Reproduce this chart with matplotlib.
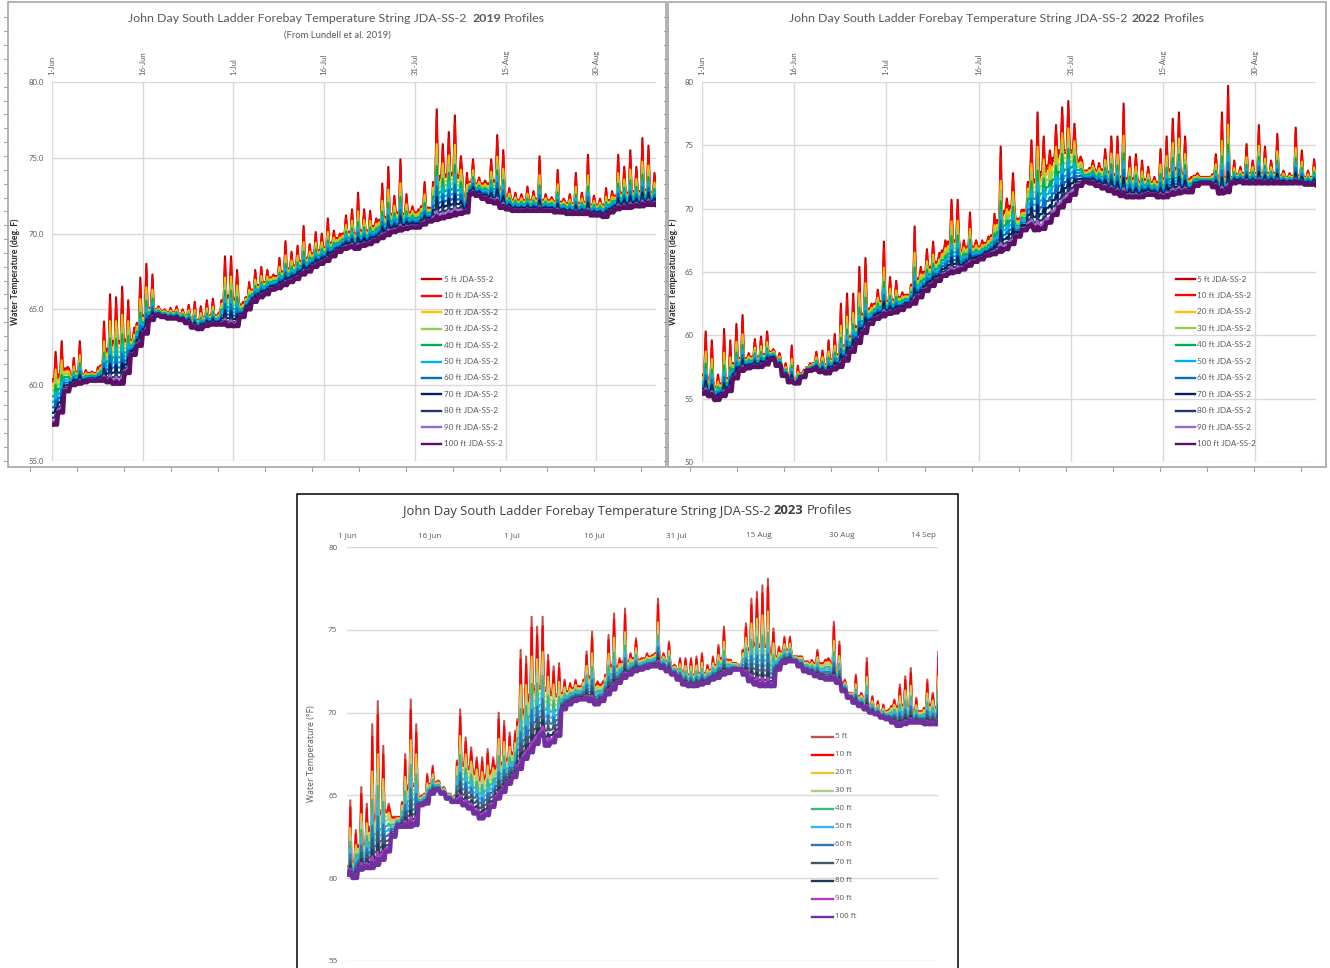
import numpy as np
import matplotlib
matplotlib.use("Agg")
import matplotlib.pyplot as plt
from matplotlib.lines import Line2D
from matplotlib.patches import Rectangle

W, H = 1330, 968

# ---------------------------------------------------------------- data
depths = ['5 ft', '10 ft', '20 ft', '30 ft', '40 ft', '50 ft', '60 ft',
          '70 ft', '80 ft', '90 ft', '100 ft']
# share of the daily surface spike reached by each depth
peak_frac = [1.0, 0.9, 0.6, 0.5, 0.42, 0.34, 0.26, 0.18, 0.12, 0.08, 0.05]
# share of the night-time surface excess (stratification) held by each depth
night_frac = [1.0, 0.95, 0.85, 0.75, 0.62, 0.50, 0.38, 0.26, 0.15, 0.07, 0.0]

colors_excel = ['#C00000', '#FF0000', '#FFC000', '#92D050', '#00B050', '#00B0F0',
                '#0070C0', '#002060', '#203864', '#9966CC', '#5C0F66']
colors_2023 = ['#C0504D', '#FF0000', '#F2C12E', '#A9D18E', '#3CB878', '#33B5E5',
               '#2E75B6', '#44546A', '#1F3A56', '#B23AC8', '#7030A0']

tick_days = [0, 15, 30, 45, 60, 75, 90]
tick_labels_dash = ['1-Jun', '16-Jun', '1-Jul', '16-Jul', '31-Jul', '15-Aug', '30-Aug']
tick_days_2023 = [0, 15, 30, 45, 60, 75, 90, 105]
tick_labels_2023 = ['1 Jun', '16 Jun', '1 Jul', '16 Jul', '31 Jul', '15 Aug', '30 Aug', '14 Sep']

# 2019 (day 0 = 1 Jun): 100 ft daily low, 5 ft daily high, 5 ft night excess over 100 ft
base_2019 = [57.4, 58.2, 59.6, 60.0, 60.1, 60.2, 60.3, 60.3, 60.3, 60.2,
             60.1, 60.1, 60.8, 62.0, 62.6, 63.4, 64.3, 64.6, 64.5, 64.4,
             64.4, 64.3, 64.1, 63.8, 63.7, 63.9, 64.0, 64.0, 64.0, 63.9,
             63.9, 64.5, 65.0, 65.5, 65.8, 66.0, 66.3, 66.4, 66.6, 66.8,
             67.0, 67.3, 67.5, 67.8, 68.0, 68.2, 68.5, 68.8, 69.0, 69.1,
             69.0, 69.2, 69.3, 69.5, 69.7, 69.9, 70.1, 70.2, 70.3, 70.4,
             70.4, 70.6, 70.8, 70.9, 71.0, 71.1, 71.2, 71.3, 71.4, 72.6,
             72.5, 72.3, 72.1, 72.0, 71.7, 71.6, 71.5, 71.5, 71.5, 71.5,
             71.5, 71.5, 71.5, 71.4, 71.4, 71.3, 71.3, 71.3, 71.3, 71.2,
             71.2, 71.1, 71.4, 71.6, 71.7, 71.7, 71.8, 71.8, 71.9, 71.9]
peak_2019 = [62.2, 62.9, 61.2, 61.8, 62.9, 61.0, 60.9, 61.2, 64.2, 66.0,
             65.8, 66.5, 65.6, 63.8, 67.1, 68.0, 67.3, 65.2, 65.0, 65.1,
             65.2, 65.0, 65.3, 65.5, 65.2, 65.6, 65.7, 64.8, 68.5, 68.5,
             67.6, 65.5, 66.8, 67.6, 67.8, 67.6, 67.3, 68.4, 69.5, 68.8,
             69.2, 70.5, 69.3, 70.1, 70.0, 71.0, 70.2, 70.0, 71.2, 71.6,
             72.7, 71.6, 71.5, 71.0, 73.3, 74.4, 72.5, 74.9, 72.6, 71.8,
             71.6, 73.4, 71.7, 78.2, 75.9, 76.7, 77.8, 75.1, 74.0, 74.9,
             73.7, 73.5, 74.9, 76.5, 75.5, 73.0, 72.7, 72.6, 73.1, 72.8,
             75.1, 72.6, 72.4, 74.2, 72.3, 72.6, 74.0, 72.7, 75.2, 72.5,
             72.3, 73.0, 72.8, 75.2, 74.4, 75.5, 74.4, 76.3, 75.8, 74.0]
gap_2019 = [3.0, 2.5, 1.5, 0.6, 0.8, 0.5, 0.5, 0.5, 1.0, 2.2,
            2.8, 2.8, 2.2, 1.0, 1.5, 1.2, 0.8, 0.4, 0.4, 0.4,
            0.4, 0.4, 0.5, 0.5, 0.6, 0.6, 0.6, 0.6, 1.6, 2.0,
            1.8, 0.8, 0.8, 0.8, 0.8, 0.8, 0.8, 0.8, 0.9, 0.9,
            0.9, 0.9, 0.9, 0.9, 0.9, 0.9, 0.9, 0.9, 1.0, 1.0,
            1.0, 1.0, 0.9, 1.0, 1.2, 1.2, 1.2, 1.2, 1.0, 1.0,
            1.0, 1.2, 1.5, 2.5, 2.8, 2.8, 2.8, 2.5, 1.0, 0.8,
            0.8, 1.0, 1.2, 1.5, 1.2, 0.8, 0.7, 0.7, 0.7, 0.7,
            0.8, 0.7, 0.7, 0.7, 0.7, 0.7, 0.7, 0.7, 0.8, 0.7,
            0.7, 0.8, 0.8, 0.9, 1.0, 1.0, 1.0, 1.0, 1.0, 0.8]

# 2022
base_2022 = [55.4, 55.2, 54.9, 55.2, 55.6, 56.6, 57.2, 57.4, 57.5, 57.5,
             57.7, 58.1, 57.6, 56.8, 56.3, 56.2, 56.7, 57.2, 57.3, 57.1,
             57.0, 57.3, 57.5, 58.0, 58.7, 59.4, 60.2, 60.9, 61.3, 61.5,
             61.7, 61.8, 62.0, 62.3, 62.5, 63.0, 63.5, 63.9, 64.3, 64.7,
             64.9, 65.0, 65.2, 65.5, 65.8, 66.0, 66.3, 66.4, 66.6, 66.8,
             67.2, 67.8, 68.3, 68.6, 68.3, 68.4, 68.9, 69.5, 70.1, 70.6,
             71.1, 71.8, 72.1, 72.0, 71.8, 71.6, 71.4, 71.2, 71.0, 70.9,
             70.9, 70.9, 71.1, 71.1, 70.9, 70.9, 71.1, 71.2, 71.3, 71.3,
             71.8, 72.0, 72.0, 71.7, 71.2, 71.3, 72.0, 72.1, 72.0, 72.0,
             72.0, 72.0, 72.0, 72.0, 72.0, 72.0, 72.0, 72.0, 71.9, 71.9,
             71.8]
peak_2022 = [60.3, 59.6, 56.9, 60.5, 59.6, 60.9, 61.6, 58.6, 59.7, 59.9,
             60.3, 58.9, 58.6, 57.8, 59.2, 57.6, 57.3, 57.8, 58.7, 58.8,
             59.6, 60.1, 62.5, 63.3, 63.3, 65.4, 66.1, 62.5, 63.6, 67.4,
             64.6, 64.3, 63.4, 63.2, 68.6, 65.4, 66.8, 67.4, 66.5, 67.5,
             70.7, 70.7, 67.5, 69.7, 67.5, 67.5, 67.8, 69.6, 74.9, 70.8,
             72.8, 69.2, 69.9, 75.4, 77.6, 75.7, 74.6, 76.6, 78.0, 78.5,
             76.7, 74.1, 73.0, 73.8, 73.6, 74.7, 75.7, 75.7, 78.3, 74.1,
             74.3, 73.8, 73.3, 72.5, 74.7, 75.7, 77.1, 77.6, 75.7, 72.5,
             72.8, 72.5, 72.5, 74.3, 77.6, 79.7, 73.8, 73.3, 75.1, 73.8,
             76.6, 74.9, 73.8, 75.9, 73.0, 72.8, 76.4, 74.6, 73.0, 73.9,
             73.5]
gap_2022 = [1.5, 1.2, 1.0, 1.0, 1.0, 1.2, 1.0, 0.8, 0.8, 0.8,
            0.8, 0.6, 0.5, 0.4, 0.4, 0.3, 0.3, 0.3, 0.5, 0.6,
            0.7, 0.8, 1.0, 1.2, 1.2, 1.3, 1.5, 1.2, 1.2, 1.2,
            1.0, 1.0, 1.0, 1.0, 1.5, 1.5, 1.5, 1.5, 1.5, 2.0,
            2.5, 2.5, 1.5, 1.5, 1.2, 1.0, 1.0, 1.5, 2.5, 3.0,
            3.0, 2.5, 3.0, 3.5, 4.0, 4.5, 4.5, 4.5, 4.5, 4.0,
            3.5, 2.0, 1.2, 1.2, 1.2, 1.5, 1.5, 1.5, 1.5, 1.5,
            1.5, 1.2, 1.2, 1.0, 1.2, 1.5, 2.0, 2.0, 1.5, 1.0,
            0.8, 0.6, 0.8, 1.0, 1.2, 1.2, 0.5, 0.6, 0.8, 0.8,
            0.8, 0.8, 0.8, 0.8, 0.6, 0.5, 0.6, 0.6, 0.6, 0.6,
            0.6]

# 2023
base_2023 = [60.2, 60.0, 60.5, 60.6, 60.6, 60.8, 61.1, 61.6, 62.5, 63.1,
             63.1, 63.1, 63.2, 64.4, 64.5, 65.1, 65.3, 65.1, 64.8, 64.6,
             64.6, 64.4, 64.2, 63.9, 63.6, 63.8, 64.3, 64.8, 65.2, 65.7,
             66.1, 66.6, 67.2, 67.6, 68.1, 68.6, 68.0, 68.2, 68.6, 70.2,
             70.5, 70.7, 70.8, 70.8, 70.7, 70.5, 70.7, 71.1, 71.4, 71.8,
             72.1, 72.3, 72.5, 72.6, 72.7, 72.8, 72.8, 72.7, 72.5, 72.3,
             72.0, 71.7, 71.6, 71.6, 71.7, 71.8, 72.0, 72.1, 72.3, 72.4,
             72.6, 72.6, 72.3, 71.9, 71.7, 71.6, 71.6, 71.6, 72.6, 73.0,
             73.1, 73.1, 72.8, 72.5, 72.4, 72.2, 72.1, 72.0, 72.0, 71.8,
             71.3, 70.9, 70.6, 70.4, 70.2, 70.0, 69.9, 69.7, 69.6, 69.4,
             69.2, 69.3, 69.4, 69.4, 69.4, 69.3, 69.3, 69.3]
peak_2023 = [64.7, 62.9, 65.5, 64.5, 69.3, 70.7, 68.0, 64.5, 63.7, 63.7,
             67.5, 70.8, 69.3, 65.0, 66.3, 66.8, 65.9, 65.5, 65.1, 65.0,
             70.2, 68.5, 67.9, 67.3, 67.3, 67.8, 67.3, 70.0, 69.5, 68.8,
             68.9, 73.8, 73.4, 75.8, 75.2, 75.8, 73.5, 72.8, 73.0, 72.0,
             71.8, 72.0, 71.6, 73.7, 74.9, 71.9, 71.9, 74.7, 76.0, 73.3,
             76.3, 73.6, 74.5, 73.3, 73.6, 73.5, 76.9, 73.6, 74.3, 72.9,
             73.3, 73.3, 73.3, 73.4, 73.6, 72.9, 73.4, 74.1, 75.2, 73.2,
             73.0, 72.9, 75.4, 76.9, 77.3, 77.7, 78.1, 75.1, 74.0, 74.6,
             74.6, 73.4, 73.4, 73.1, 73.2, 73.8, 73.0, 73.3, 75.5, 74.3,
             72.0, 71.2, 72.3, 71.2, 73.3, 71.0, 70.7, 70.5, 70.2, 70.8,
             71.7, 72.2, 72.7, 70.9, 70.1, 72.0, 71.2, 73.7]
gap_2023 = [0.5, 1.0, 1.5, 1.5, 2.5, 3.0, 3.0, 2.5, 1.2, 0.6,
            1.5, 2.5, 2.5, 0.5, 0.6, 0.6, 0.5, 0.3, 0.3, 0.3,
            2.5, 2.5, 2.5, 2.5, 2.4, 2.4, 2.2, 2.0, 1.8, 1.5,
            1.5, 3.0, 3.0, 3.5, 3.5, 3.0, 3.5, 3.0, 2.5, 1.0,
            0.8, 0.8, 0.8, 1.2, 1.5, 1.2, 1.0, 1.2, 1.5, 1.0,
            1.0, 0.8, 0.8, 0.6, 0.6, 0.6, 0.8, 0.6, 0.6, 0.5,
            0.6, 0.7, 0.7, 0.7, 0.7, 0.6, 0.6, 0.8, 1.0, 0.8,
            0.6, 0.6, 1.5, 2.0, 2.5, 2.5, 2.5, 2.0, 0.8, 0.7,
            0.7, 0.6, 0.6, 0.6, 0.6, 0.8, 1.0, 1.2, 1.0, 0.5,
            0.4, 0.4, 0.4, 0.6, 0.4, 0.4, 0.3, 0.3, 0.5, 1.0,
            1.2, 1.2, 1.0, 0.6, 1.0, 1.0, 1.2, 1.0]

# ---------------------------------------------------------------- helpers
fig = plt.figure(figsize=(W / 100, H / 100), dpi=100)
fig.patch.set_facecolor('white')
GRAY = '#595959'
GRID = '#D9D9D9'
FRAME = '#A6A6A6'


def rect(l, t, r, b):
    return [l / W, 1 - b / H, (r - l) / W, (b - t) / H]


def depth_series(base, peak, gap, k):
    b = np.asarray(base, float)
    p = np.asarray(peak, float)
    g = np.minimum(np.asarray(gap, float), p - b)
    lo = b + night_frac[k] * g
    hi = lo + peak_frac[k] * (p - b - g)
    d = np.arange(len(b))
    t = np.column_stack([d, d + 0.38, d + 0.6, d + 0.82]).ravel()
    v = np.column_stack([lo, lo, hi, lo]).ravel()
    return t, v


def draw_profiles(ax, base, peak, gap, colors, lw=1.55):
    for k in range(len(depths)):
        t, v = depth_series(base, peak, gap, k)
        w = lw
        if k == 10:
            w = lw * 2.1
        elif k == 9:
            w = lw * 1.4
        ax.plot(t, v, color=colors[k], lw=w, solid_joinstyle='round',
                zorder=3 + k)


def frame(l, t, r, b, color, lw):
    fig.add_artist(Rectangle((l / W, 1 - b / H), (r - l) / W, (b - t) / H,
                             transform=fig.transFigure, fill=False,
                             edgecolor=color, lw=lw))


def frame_ticks(l, b, first_x, r):
    # small ruler marks outside the left and bottom frame edges
    y = b - 6.3
    while y > 8:
        fig.add_artist(Line2D([(l - 4) / W, l / W], [1 - y / H, 1 - y / H],
                              color=FRAME, lw=0.8, transform=fig.transFigure))
        y -= 13.85
    x = first_x
    while x < r - 10:
        fig.add_artist(Line2D([x / W, x / W], [1 - b / H, 1 - (b + 4) / H],
                              color=FRAME, lw=0.8, transform=fig.transFigure))
        x += 47.0


def mixed_title(parts, cx, cy, target_w, family, color):
    r = fig.canvas.get_renderer()
    size = 10
    texts = [fig.text(0, 0, s, fontsize=size, fontweight=wt, family=family,
                      color=color, va='center', ha='left') for s, wt in parts]
    sp = fig.text(0, 0, 'a a', fontsize=size, family=family)
    sp2 = fig.text(0, 0, 'aa', fontsize=size, family=family)
    ws = [t.get_window_extent(r).width for t in texts]
    space = sp.get_window_extent(r).width - sp2.get_window_extent(r).width
    sp.remove(); sp2.remove()
    total = sum(ws) + space * (len(ws) - 1)
    scale = target_w / total
    x = cx - target_w / 2
    for t, w in zip(texts, ws):
        t.set_fontsize(size * scale)
        t.set_position((x / W, 1 - cy / H))
        x += (w + space) * scale


def manual_legend(labels, colors, x0, x1, xt, y0, dy, size, family, lw=1.7):
    for i, (lab, c) in enumerate(zip(labels, colors)):
        y = 1 - (y0 + i * dy) / H
        fig.add_artist(Line2D([x0 / W, x1 / W], [y, y], color=c, lw=lw,
                              transform=fig.transFigure))
        fig.text(xt / W, y, lab, fontsize=size, family=family, color=GRAY,
                 va='center', ha='left')


def style_axes(ax, xmax, ylim, yfmt, xticks, xlabels, vgrid, rot, tsize, family,
               xpad, ypad):
    ax.set_xlim(0, xmax)
    ax.set_ylim(*ylim)
    yt = np.arange(ylim[0], ylim[1] + 0.1, 5)
    ax.set_yticks(yt)
    ax.set_yticklabels([yfmt % v for v in yt], family=family)
    ax.xaxis.tick_top()
    ax.set_xticks(xticks)
    ax.set_xticklabels(xlabels, rotation=rot, family=family)
    ax.tick_params(axis='x', length=0, pad=xpad, labelsize=tsize, labelcolor=GRAY)
    ax.tick_params(axis='y', length=0, pad=ypad, labelsize=tsize, labelcolor=GRAY)
    for s in ax.spines.values():
        s.set_visible(False)
    ax.yaxis.grid(True, color=GRID, lw=1.0, zorder=0)
    if vgrid:
        ax.xaxis.grid(True, color=GRID, lw=1.0, zorder=0)
    else:
        ax.xaxis.grid(False)
    ax.set_axisbelow(True)
    ax.patch.set_alpha(0)


FONT_A = ['Lato', 'DejaVu Sans']
FONT_B = ['Open Sans', 'DejaVu Sans']

# ---------------------------------------------------------------- frames
frame(8, 2, 666, 467, FRAME, 1.2)
frame(668, 2, 1326, 467, FRAME, 1.2)
frame_ticks(8, 467, 30, 666)
frame_ticks(668, 467, 690, 1326)
frame(297, 494, 958, 990, '#000000', 1.1)

# ---------------------------------------------------------------- 2019
ax1 = fig.add_axes(rect(52, 82, 656, 461))
draw_profiles(ax1, base_2019, peak_2019, gap_2019, colors_excel)
style_axes(ax1, 99.85, (55, 80), '%.1f', tick_days, tick_labels_dash, True, 90,
           5.6, FONT_A, 5, 6)
ax1.set_ylabel('Water Temperature (deg. F)', fontsize=6.2, fontweight='bold',
               family=FONT_A, color='#262626')
ax1.yaxis.set_label_coords(-0.053, 0.5)
mixed_title([('John Day South Ladder Forebay Temperature String JDA-SS-2', 'normal'),
             ('2019', 'bold'), ('Profiles', 'normal')], 337, 18, 417, FONT_A, GRAY)
fig.text(337 / W, 1 - 35 / H, '(From Lundell et al. 2019)', fontsize=6.8,
         family=FONT_A, color=GRAY, ha='center', va='center')
manual_legend([d + ' JDA-SS-2' for d in depths],
              colors_excel, 422, 441, 444, 279.3, 16.45, 5.9, FONT_A)

# ---------------------------------------------------------------- 2022
ax2 = fig.add_axes(rect(702, 82, 1316, 462))
draw_profiles(ax2, base_2022, peak_2022, gap_2022, colors_excel)
style_axes(ax2, 99.9, (50, 80), '%d', tick_days, tick_labels_dash, True, 90,
           5.6, FONT_A, 5, 6)
ax2.set_ylabel('Water Temperature (deg. F)', fontsize=6.2, fontweight='bold',
               family=FONT_A, color='#262626')
ax2.yaxis.set_label_coords(-0.039, 0.5)
mixed_title([('John Day South Ladder Forebay Temperature String JDA-SS-2', 'normal'),
             ('2022', 'bold'), ('Profiles', 'normal')], 997, 18, 416, FONT_A, GRAY)
manual_legend([d + ' JDA-SS-2' for d in depths], colors_excel,
              1176, 1195, 1197, 279, 16.45, 5.9, FONT_A)

# ---------------------------------------------------------------- 2023
ax3 = fig.add_axes(rect(347, 547.3, 938, 960.7))
draw_profiles(ax3, base_2023, peak_2023, gap_2023, colors_2023, lw=1.5)
style_axes(ax3, 107.55, (55, 80), '%d', tick_days_2023, tick_labels_2023, False, 0,
           5.8, FONT_B, 6, 7)
ax3.set_ylabel('Water Temperature (°F)', fontsize=6.3, family=FONT_B, color=GRAY)
ax3.yaxis.set_label_coords(-0.052, 0.5)
mixed_title([('John Day South Ladder Forebay Temperature String JDA-SS-2', 'normal'),
             ('2023', 'bold'), ('Profiles', 'normal')], 627.5, 511, 449, FONT_B, '#404040')
manual_legend(depths, colors_2023, 812, 833, 835, 736.7, 18.0, 5.8, FONT_B)

fig.savefig('out.png', dpi=100, facecolor='white')
